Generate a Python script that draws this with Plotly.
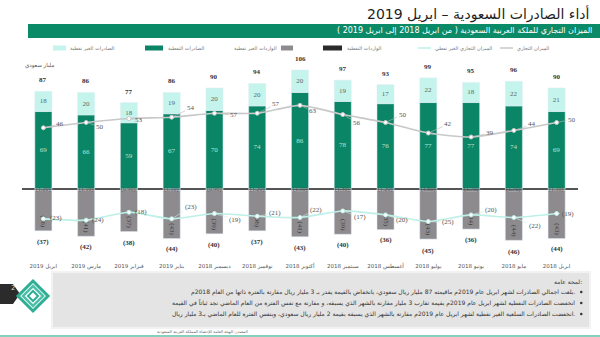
import plotly.graph_objects as go

# ---- data (billion SAR) ----
months = ["ابريل 2019", "مارس 2019", "فبراير 2019", "يناير 2019", "ديسمبر 2018",
          "نوفمبر 2018", "أكتوبر 2018", "سبتمبر 2018", "أغسطس 2018", "يوليو 2018",
          "يونيو 2018", "مايو 2018", "ابريل 2018"]
oil_exports = [69, 66, 59, 67, 70, 74, 86, 78, 76, 77, 77, 74, 69]
nonoil_exports = [18, 20, 18, 19, 20, 20, 20, 19, 17, 22, 18, 22, 21]
total_exports = [87, 86, 77, 86, 90, 94, 106, 97, 93, 99, 95, 96, 90]
oil_imports = [1.2, 1.1, 0.9, 1.1, 0.9, 1.2, 1.5, 1.3, 1.2, 1.6, 1.7, 1.7, 1.1]
nonoil_imports = [36, 41, 37, 43, 39, 36, 41, 39, 35, 43, 34, 44, 43]
total_imports = [37, 42, 38, 44, 40, 37, 43, 40, 36, 45, 36, 46, 44]
trade_balance = [46, 50, 53, 54, 57, 57, 63, 56, 50, 42, 39, 44, 50]
nonoil_balance = [-23, -24, -18, -23, -19, -21, -22, -17, -20, -25, -20, -22, -19]

# ---- page geometry ----
W, H = 600, 337
ML, MR, MT, MB = 22, 22, 60, 87
PW, PH = W - ML - MR, H - MT - MB


def px(x):
    return (x - ML) / PW


def py(y):
    return 1 - (y - MT) / PH


GREEN = "#0a8566"
LIGHT = "#c4f4ec"
GREY = "#8e8b8f"
DARK = "#2a2a2a"
LINE_GREY = "#c8c8c8"
LINE_CYAN = "#bdf0e7"
NUM_FONT = "Liberation Serif"
AR_FONT = "DejaVu Sans"


def paren(v):
    return f"({abs(v):g})"


fig = go.Figure()

fig.add_bar(x=months, y=oil_exports, marker_color=GREEN, width=0.4,
            text=[str(v) for v in oil_exports], textposition="inside",
            insidetextanchor="middle",
            textfont=dict(family=NUM_FONT, size=7, color="#b9e3d5"))
fig.add_bar(x=months, y=nonoil_exports, marker_color=LIGHT, width=0.4,
            text=[str(v) for v in nonoil_exports], textposition="inside",
            insidetextanchor="middle",
            textfont=dict(family=NUM_FONT, size=7, color="#5a6b66"))
fig.add_bar(x=months, y=[-v for v in oil_imports], marker_color=DARK, width=0.4)
fig.add_bar(x=months, y=[-v for v in nonoil_imports], marker_color=GREY, width=0.4,
            text=[paren(v) for v in nonoil_imports], textposition="inside",
            insidetextanchor="end",
            textfont=dict(family=NUM_FONT, size=7, color="#3a3a3a"))

# balance lines on a secondary scale
fig.add_scatter(x=months, y=trade_balance, yaxis="y2", mode="lines+markers",
                line=dict(color=LINE_GREY, width=1.6, shape="spline", smoothing=0.6),
                marker=dict(size=4, color="white", line=dict(color=LINE_GREY, width=1)))
fig.add_scatter(x=months, y=nonoil_balance, yaxis="y2", mode="lines+markers",
                line=dict(color=LINE_CYAN, width=1.6, shape="spline", smoothing=0.6),
                marker=dict(size=4, color="white", line=dict(color=LINE_CYAN, width=1)))

ann = []
# export totals above the bars
for m, v in zip(months, total_exports):
    ann.append(dict(x=m, y=v, yref="y", text=f"<b>{v}</b>", showarrow=False,
                    yanchor="bottom", yshift=5,
                    font=dict(family=NUM_FONT, size=7, color="#333")))
# import totals below the bars
for m, v in zip(months, total_imports):
    ann.append(dict(x=m, y=-v, yref="y", text=f"<b>{paren(v)}</b>", showarrow=False,
                    yanchor="top", yshift=-5,
                    font=dict(family=NUM_FONT, size=7, color="#333")))
# oil import values at the zero line
for m, v in zip(months, oil_imports):
    ann.append(dict(x=m, y=-v / 2, yref="y", text=f"({v:.2f})", showarrow=False,
                    font=dict(family=NUM_FONT, size=6, color="#555")))

# callout offsets for the balance labels
tb_off = [(17, -4), (14, 4), (10, 1), (19, -9), (20, 2), (19, -9), (13, 6),
          (14, 8), (17, -8), (20, -9), (19, -4), (18, -6), (15, -3)]
nb_off = [(13, -1), (12, 0), (12, 0), (19, -12), (21, 6), (18, -3), (16, -8),
          (17, 6), (16, 5), (20, 1), (20, -5), (21, 8), (11, 0)]
for m, v, (dx, dy) in zip(months, trade_balance, tb_off):
    ann.append(dict(x=m, y=v, yref="y2", text=str(v), showarrow=True, arrowhead=0,
                    arrowwidth=0.6, arrowcolor="#bbbbbb", ax=dx, ay=dy, standoff=2,
                    font=dict(family=NUM_FONT, size=7, color="#555")))
for m, v, (dx, dy) in zip(months, nonoil_balance, nb_off):
    ann.append(dict(x=m, y=v, yref="y2", text=paren(v), showarrow=True, arrowhead=0,
                    arrowwidth=0.6, arrowcolor="#cfeee8", ax=dx, ay=dy, standoff=2,
                    font=dict(family=NUM_FONT, size=7, color="#555")))

shapes = []

# slide title and banner
ann.append(dict(xref="paper", yref="paper", x=px(592), y=py(14), xanchor="right",
                yanchor="middle", text="أداء الصادرات السعودية – ابريل 2019",
                showarrow=False, font=dict(family=AR_FONT, size=14, color="#1f1f1f")))
shapes.append(dict(type="rect", xref="paper", yref="paper", x0=px(28), x1=px(600),
                   y0=py(24), y1=py(38), fillcolor="#0b8a68", line_width=0, layer="below"))
ann.append(dict(xref="paper", yref="paper", x=px(594), y=py(31), xanchor="right",
                yanchor="middle",
                text="الميزان التجاري للملكة العربية السعودية ( من ابريل 2018 إلى ابريل 2019 )",
                showarrow=False, font=dict(family=AR_FONT, size=8, color="white")))

# legend row
LY = 48
legend_boxes = [(53, 66, LIGHT), (145, 163, GREEN), (281, 293, GREY), (323, 342, DARK)]
for x0, x1, c in legend_boxes:
    shapes.append(dict(type="rect", xref="paper", yref="paper", x0=px(x0), x1=px(x1),
                       y0=py(LY - 2.5), y1=py(LY + 2.5), fillcolor=c, line_width=0))
for x0, x1, c in [(418, 431, LINE_CYAN), (500, 513, LINE_GREY)]:
    shapes.append(dict(type="line", xref="paper", yref="paper", x0=px(x0), x1=px(x1),
                       y0=py(LY), y1=py(LY), line=dict(color=c, width=1.5)))
legend_texts = [(68, "left", "الصادرات الغير نفطية"), (166, "left", "الصادرات النفطية"),
                (279, "right", "الواردات الغير نفطية"), (345, "left", "الواردات النفطية"),
                (433, "left", "الميزان التجاري الغير نفطي"), (515, "left", "الميزان التجاري")]
for x, anc, t in legend_texts:
    ann.append(dict(xref="paper", yref="paper", x=px(x), y=py(LY), xanchor=anc,
                    yanchor="middle", text=t, showarrow=False,
                    font=dict(family=AR_FONT, size=5, color="#777")))
ann.append(dict(xref="paper", yref="paper", x=px(23), y=py(65), xanchor="left",
                yanchor="middle", text="مليار سعودي", showarrow=False,
                font=dict(family=AR_FONT, size=5.5, color="#555")))

# notes panel
shapes.append(dict(type="rect", xref="paper", yref="paper", x0=px(52), x1=px(590),
                   y0=py(272), y1=py(328), fillcolor="#e4e4e4",
                   line=dict(color="#f2f2f2", width=2), layer="below"))
ann.append(dict(xref="paper", yref="paper", x=px(584), y=py(281), xanchor="right",
                yanchor="middle", text="لمحة عامة:", showarrow=False,
                font=dict(family=AR_FONT, size=6, color="#333")))
notes = [
    "بلغت اجمالي الصادرات لشهر ابريل عام 2019م ماقيمته 87 مليار ريال سعودي، بانخفاض بالقيمة يقدر بـ 3 مليار ريال مقارنة بالفترة ذاتها من العام 2018م.",
    "انخفضت الصادرات النفطية لشهر ابريل عام 2019م بقيمة تقارب 3 مليار مقارنة بالشهر الذي يسبقه، و مقارنة مع نفس الفترة من العام الماضي نجد ثباتاً في القيمة",
    "انخفضت الصادرات السلعية الغير نفطية لشهر ابريل عام 2019م مقارنة بالشهر الذي يسبقه بقيمة 2 مليار ريال سعودي، وبنفس الفترة للعام الماضي بـ3 مليار ريال.",
]
for i, t in enumerate(notes):
    yy = 292 + i * 11
    ann.append(dict(xref="paper", yref="paper", x=px(577), y=py(yy), xanchor="right",
                    yanchor="middle", text=t, showarrow=False,
                    font=dict(family=AR_FONT, size=6, color="#333")))
    shapes.append(dict(type="circle", xref="paper", yref="paper", x0=px(580), x1=px(582.5),
                       y0=py(yy - 1.2), y1=py(yy + 1.2), fillcolor="#333", line_width=0))

# source line and footer rule
ann.append(dict(xref="paper", yref="paper", x=px(250), y=py(331), xanchor="right",
                yanchor="middle", text="المصدر: الهيئة العامة للإحصاء المملكة العربية السعودية",
                showarrow=False, font=dict(family=AR_FONT, size=4, color="#666")))
shapes.append(dict(type="line", xref="paper", yref="paper", x0=px(0), x1=px(600),
                   y0=py(336), y1=py(336), line=dict(color="#5cc2a8", width=1.5)))

# page badge and emblem
shapes.append(dict(type="path", xref="paper", yref="paper",
                   path=f"M {px(0)},{py(284)} L {px(13)},{py(284)} L {px(20)},{py(294)} "
                        f"L {px(13)},{py(304)} L {px(0)},{py(304)} Z",
                   fillcolor="#2b2b2b", line_width=0))
ann.append(dict(xref="paper", yref="paper", x=px(9), y=py(294), text="2", showarrow=False,
                font=dict(family=AR_FONT, size=7, color="#ddd")))
cx, cy = 33, 296
for r, col, w in [(15, "#2fae96", 3), (10, "#4cc0a8", 2.5), (5, "#2fae96", 2)]:
    shapes.append(dict(type="path", xref="paper", yref="paper",
                       path=f"M {px(cx)},{py(cy - r)} L {px(cx + r)},{py(cy)} "
                            f"L {px(cx)},{py(cy + r)} L {px(cx - r)},{py(cy)} Z",
                       fillcolor="rgba(0,0,0,0)", line=dict(color=col, width=w)))

fig.update_layout(
    width=W, height=H,
    margin=dict(l=ML, r=MR, t=MT, b=MB),
    barmode="relative",
    showlegend=False,
    paper_bgcolor="white", plot_bgcolor="white",
    xaxis=dict(type="category", range=[-0.5, 12.5], showgrid=False, showline=False,
               ticks="", ticklabelstandoff=11,
               tickfont=dict(family=AR_FONT, size=5.5, color="#555")),
    yaxis=dict(range=[-54.3, 114.9], showgrid=False, showticklabels=False,
               zeroline=True, zerolinecolor="#555", zerolinewidth=1.5),
    yaxis2=dict(range=[-46.6, 97.35], overlaying="y", showgrid=False,
                showticklabels=False, zeroline=False),
    annotations=ann,
    shapes=shapes,
)

fig.write_html("out.html")
